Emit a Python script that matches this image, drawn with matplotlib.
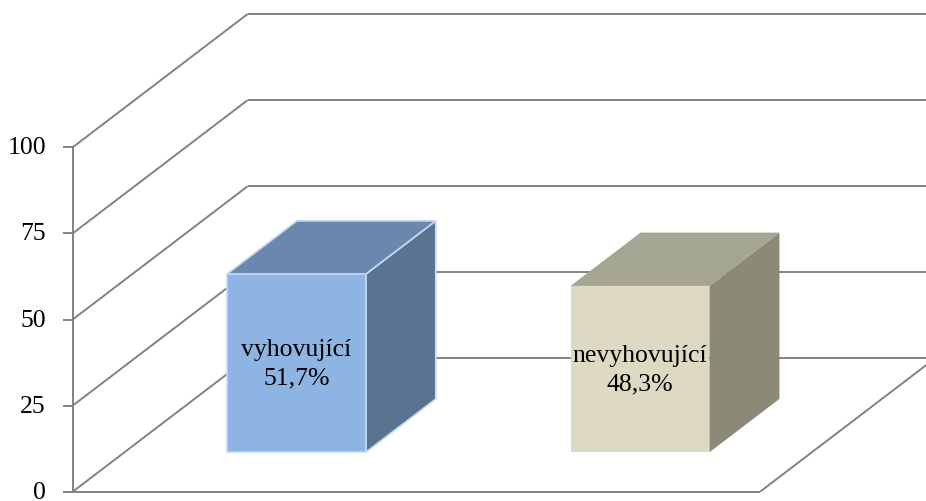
import matplotlib.pyplot as plt
from matplotlib.patches import Polygon

categories = ["vyhovující", "nevyhovující"]
values = [51.7, 48.3]
value_labels = ["51,7%", "48,3%"]
yticks = [0, 25, 50, 75, 100]

front_colors = ["#8EB4E3", "#DDD9C3"]
top_colors = ["#6A88AD", "#A5A593"]
side_colors = ["#5A7390", "#8B8A79"]
edge_colors = ["#C6D9F1", "none"]

# oblique projection of the 3D box (full depth)
DEPTH_X = 0.509   # category units
DEPTH_Y = 38.7    # value units
BAR_Z0, BAR_Z1 = 0.296, 0.696
BAR_W = 0.404
GRID = "#828282"
FONT = "Liberation Serif"


def proj(x, v, z):
    return (x + z * DEPTH_X, v + z * DEPTH_Y)


def seg(a, b, **kw):
    ax.plot([a[0], b[0]], [a[1], b[1]], color=GRID, lw=1.4,
            solid_capstyle="butt", **kw)


fig = plt.figure(figsize=(9.26, 5.02), dpi=100)
ax = fig.add_axes([0, 0, 1, 1])
ax.set_xlim(-0.7115, 1.9827)
ax.set_ylim(-2.70, 143.06)
ax.axis("off")

n = len(categories)
x0, x1 = -0.5, n - 0.5

# walls + gridlines
for t in yticks:
    seg(proj(x0, t, 0), proj(x0, t, 1), zorder=1)
    seg(proj(x0, t, 1), proj(x1, t, 1), zorder=1)
    seg((x0 - 0.028, t), (x0, t), zorder=3)
    ax.text(x0 - 0.078, t, str(t), ha="right", va="center",
            fontsize=18.5, family=FONT, color="black")

# floor and y axis
seg(proj(x0, 0, 0), proj(x1, 0, 0), zorder=3)
seg(proj(x1, 0, 0), proj(x1, 0, 1), zorder=1)
seg(proj(x0, 0, 0), proj(x0, yticks[-1], 0), zorder=3)

# bars
for i, v in enumerate(values):
    left, right = i - BAR_W / 2, i + BAR_W / 2
    front = [proj(left, 0, BAR_Z0), proj(right, 0, BAR_Z0),
             proj(right, v, BAR_Z0), proj(left, v, BAR_Z0)]
    top = [proj(left, v, BAR_Z0), proj(right, v, BAR_Z0),
           proj(right, v, BAR_Z1), proj(left, v, BAR_Z1)]
    side = [proj(right, 0, BAR_Z0), proj(right, 0, BAR_Z1),
            proj(right, v, BAR_Z1), proj(right, v, BAR_Z0)]
    for pts, col in [(side, side_colors[i]), (top, top_colors[i]), (front, front_colors[i])]:
        ax.add_patch(Polygon(pts, closed=True, facecolor=col,
                             edgecolor=edge_colors[i], lw=1.2, zorder=2))
    cx, cy = proj(i, v / 2, BAR_Z0)
    ax.text(cx, cy, f"{categories[i]}\n{value_labels[i]}", ha="center", va="center",
            fontsize=18.5, family=FONT, color="black", zorder=4, linespacing=1.35)

fig.savefig("out.png", dpi=100)
